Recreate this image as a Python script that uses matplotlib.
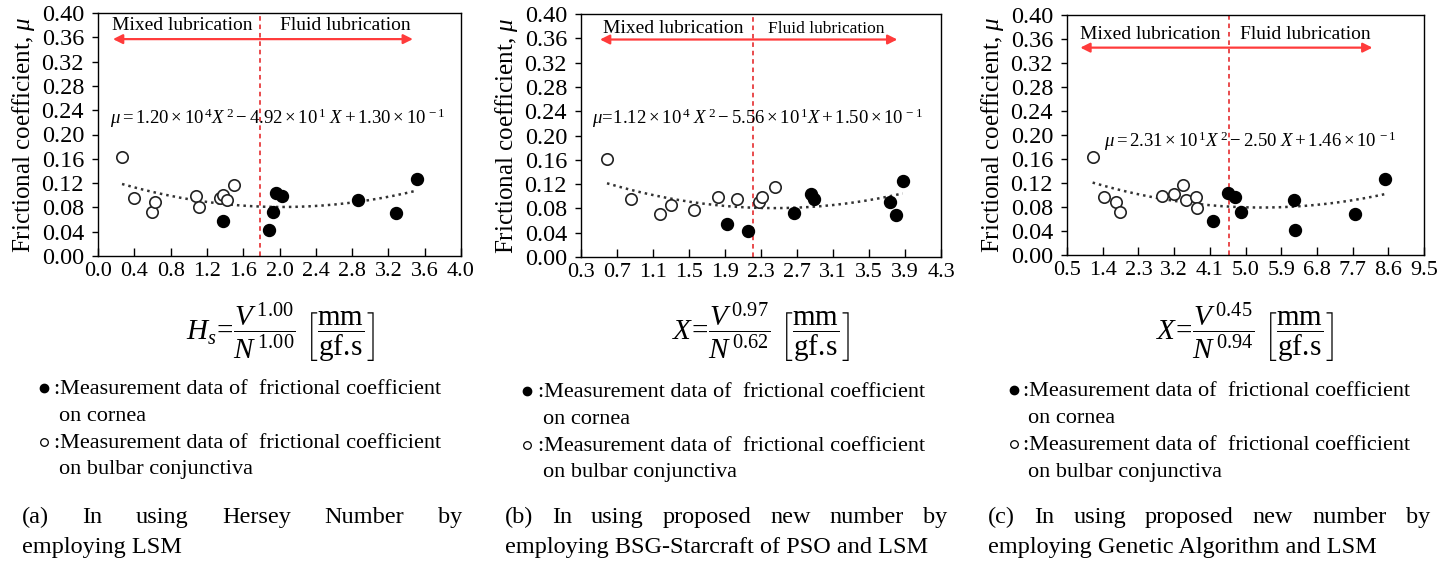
import numpy as np
import matplotlib
matplotlib.use("Agg")
import matplotlib.pyplot as plt
import matplotlib.lines as mlines

plt.rcParams['font.family'] = ['Liberation Serif', 'DejaVu Serif']
plt.rcParams['mathtext.fontset'] = 'custom'
plt.rcParams['mathtext.rm'] = 'Liberation Serif'
plt.rcParams['mathtext.it'] = 'Liberation Serif:italic'
plt.rcParams['mathtext.bf'] = 'Liberation Serif:bold'

W, H = 1456, 561

# ---------------- data ----------------
# (a) Hersey number
a_open_x = [0.265, 0.40, 0.60, 0.63, 1.08, 1.11, 1.34, 1.38, 1.42, 1.50]
a_open_y = [0.163, 0.096, 0.072, 0.089, 0.099, 0.080, 0.096, 0.101, 0.092, 0.117]
a_fill_x = [1.38, 1.88, 1.93, 1.96, 2.03, 2.87, 3.28, 3.51]
a_fill_y = [0.058, 0.043, 0.073, 0.104, 0.099, 0.092, 0.070, 0.127]
# (b) PSO number
b_open_x = [0.589, 0.856, 1.178, 1.304, 1.559, 1.819, 2.03, 2.274, 2.311, 2.452]
b_open_y = [0.162, 0.095, 0.071, 0.086, 0.078, 0.099, 0.095, 0.091, 0.099, 0.115]
b_fill_x = [1.926, 2.152, 2.663, 2.856, 2.885, 3.73, 3.80, 3.874]
b_fill_y = [0.055, 0.042, 0.073, 0.104, 0.096, 0.090, 0.069, 0.125]
# (c) GA number
c_open_x = [1.146, 1.44, 1.733, 1.834, 2.90, 3.20, 3.43, 3.49, 3.75, 3.77]
c_open_y = [0.163, 0.096, 0.088, 0.071, 0.099, 0.101, 0.117, 0.092, 0.097, 0.079]
c_fill_x = [4.19, 4.55, 4.74, 4.89, 6.22, 6.25, 7.76, 8.52]
c_fill_y = [0.057, 0.104, 0.097, 0.072, 0.092, 0.042, 0.069, 0.126]

boundaries = [1.79, 2.215, 4.585]
arrow_ranges = [(0.165, 3.47), (0.511, 3.815), (0.836, 8.20)]
arrow_y = [0.357, 0.358, 0.3456]
xlims = [(0.0, 4.0), (0.3, 4.3), (0.5, 9.5)]
xsteps = [0.4, 0.4, 0.9]
yticks = [0.00, 0.04, 0.08, 0.12, 0.16, 0.20, 0.24, 0.28, 0.32, 0.36, 0.40]

equations = [
    r'$\mu = 1.20\times10^{\,4}X^{\,2} - 4.92\times10^{\,1}\ X + 1.30\times10^{\,-1}$',
    r'$\mu\!=\!1.12\times10^{\,4}\ X^{\,2} - 5.56\times10^{\,1}X + 1.50\times10^{\,-1}$',
    r'$\mu = 2.31\times10^{\,1}X^{\,2} - 2.50\ X + 1.46\times10^{\,-1}$',
]
eq_pos = [(0.13, 0.226), (0.42, 0.228), (1.44, 0.189)]
mixed_pos = [(0.93, 0.380), (1.33, 0.376), (2.60, 0.367)]
fluid_pos = [(2.72, 0.380), (3.03, 0.376), (6.51, 0.367)]
fluid_size = [14, 12.5, 14]

xlabels = [
    r'$H_s\!=\!\dfrac{V^{\,1.00}}{N^{\,1.00}}\ \left[\dfrac{\mathrm{mm}}{\mathrm{gf.\!s}}\right]$',
    r'$X\!=\!\dfrac{V^{\,0.97}}{N^{\,0.62}}\ \left[\dfrac{\mathrm{mm}}{\mathrm{gf.\!s}}\right]$',
    r'$X\!=\!\dfrac{V^{\,0.45}}{N^{\,0.94}}\ \left[\dfrac{\mathrm{mm}}{\mathrm{gf.\!s}}\right]$',
]
legend_lines = [":Measurement data of  frictional coefficient", "on cornea",
                ":Measurement data of  frictional coefficient", "on bulbar conjunctiva"]
caption_line1 = [["(a)", "In", "using", "Hersey", "Number", "by"],
                 ["(b)", "In", "using", "proposed", "new", "number", "by"],
                 ["(c)", "In", "using", "proposed", "new", "number", "by"]]
caption_line2 = ["employing LSM",
                 "employing BSG-Starcraft of PSO and LSM",
                 "employing Genetic Algorithm and LSM"]

open_x = [a_open_x, b_open_x, c_open_x]
open_y = [a_open_y, b_open_y, c_open_y]
fill_x = [a_fill_x, b_fill_x, c_fill_x]
fill_y = [a_fill_y, b_fill_y, c_fill_y]

# ---------------- layout (pixels) ----------------
ax_px = [(98, 13, 461, 256), (581, 14, 941, 257), (1067, 15, 1424, 255)]
formula_cx = [280, 761, 1245]
formula_cy = 333
legend_x = [(40, 54, 59), (523, 538, 543), (1010, 1023, 1028)]
legend_base = [(394, 421, 448, 474), (397, 424, 451, 477), (396, 423, 450, 477)]
caption_x = [(22, 462), (505, 947), (988, 1430)]
cap_base = (523, 553)

fig = plt.figure(figsize=(W / 100, H / 100), dpi=100)

def fx(px):
    return px / W

def fy(py):
    return 1 - py / H

for i in range(3):
    l, t, r, b = ax_px[i]
    ax = fig.add_axes([fx(l), fy(b), (r - l) / W, (b - t) / H])
    ox, oy, fxs, fys = open_x[i], open_y[i], fill_x[i], fill_y[i]
    # trend line (LSM quadratic fit of all data)
    allx = np.array(ox + fxs)
    ally = np.array(oy + fys)
    coef = np.polyfit(allx, ally, 2)
    xx = np.linspace(allx.min(), allx.max(), 200)
    ax.plot(xx, np.polyval(coef, xx), linestyle=(0, (1.0, 1.6)), color='#333333', lw=1.8, zorder=2)
    ax.plot(ox, oy, 'o', ms=8.2, mfc='white', mec='#222222', mew=1.2, zorder=3)
    ax.plot(fxs, fys, 'o', ms=8.6, mfc='black', mec='black', mew=1.0, zorder=3)
    ax.axvline(boundaries[i], color='#e31a1c', ls=(0, (3, 2.5)), lw=1.1, zorder=1)
    x0, x1 = arrow_ranges[i]
    ax.annotate('', xy=(x1, arrow_y[i]), xytext=(x0, arrow_y[i]),
                arrowprops=dict(arrowstyle='<|-|>', color='#ff3b3b', lw=1.6,
                                mutation_scale=14, shrinkA=0, shrinkB=0))
    ax.text(*mixed_pos[i], 'Mixed lubrication', fontsize=14, ha='center', va='center')
    ax.text(*fluid_pos[i], 'Fluid lubrication', fontsize=fluid_size[i], ha='center', va='center')
    ax.text(*eq_pos[i], equations[i], fontsize=13.5, ha='left', va='center')
    lo, hi = xlims[i]
    ax.set_xlim(lo, hi)
    ax.set_ylim(0, 0.40)
    n = int(round((hi - lo) / xsteps[i]))
    xt = [lo + k * xsteps[i] for k in range(n + 1)]
    ax.set_xticks(xt)
    ax.set_xticklabels([f'{v:.1f}' for v in xt])
    ax.set_yticks(yticks)
    ax.set_yticklabels([f'{v:.2f}' for v in yticks])
    ax.tick_params(axis='x', direction='in', length=6, width=1, labelsize=16, pad=4)
    ax.tick_params(axis='y', direction='out', length=4, width=1, labelsize=17.5, pad=6)
    for s in ax.spines.values():
        s.set_linewidth(1.0)
    ax.set_ylabel(r'Frictional coefficient, $\mu$', fontsize=18, labelpad=3)

    # formula x-label
    fig.text(fx(formula_cx[i]), fy(formula_cy), xlabels[i], fontsize=21, ha='center', va='center')

    # legend
    bx, tx, ox2 = legend_x[i]
    yb = legend_base[i]
    fig.add_artist(mlines.Line2D([fx(bx + 4)], [fy(yb[0] - 6)], marker='o', ms=6,
                                 mfc='black', mec='black', transform=fig.transFigure))
    fig.add_artist(mlines.Line2D([fx(bx + 4)], [fy(yb[2] - 6)], marker='o', ms=5.5,
                                 mfc='white', mec='black', mew=0.9, transform=fig.transFigure))
    fig.text(fx(tx), fy(yb[0]), legend_lines[0], fontsize=16, ha='left', va='baseline')
    fig.text(fx(ox2), fy(yb[1]), legend_lines[1], fontsize=16, ha='left', va='baseline')
    fig.text(fx(tx), fy(yb[2]), legend_lines[2], fontsize=16, ha='left', va='baseline')
    fig.text(fx(ox2), fy(yb[3]), legend_lines[3], fontsize=16, ha='left', va='baseline')

# captions (justified first line)
cap_texts = []
for i in range(3):
    words = [fig.text(0, fy(cap_base[0]), w, fontsize=17.5, ha='left', va='baseline')
             for w in caption_line1[i]]
    cap_texts.append(words)
    fig.text(fx(caption_x[i][0]), fy(cap_base[1]), caption_line2[i], fontsize=17.5,
             ha='left', va='baseline')

fig.canvas.draw()
renderer = fig.canvas.get_renderer()
for i in range(3):
    words = cap_texts[i]
    widths = [t.get_window_extent(renderer).width for t in words]
    x0, x1 = caption_x[i]
    gap = (x1 - x0 - sum(widths)) / (len(words) - 1)
    x = x0
    for t, wd in zip(words, widths):
        t.set_x(fx(x))
        x += wd + gap

fig.savefig('out.png', dpi=100)
